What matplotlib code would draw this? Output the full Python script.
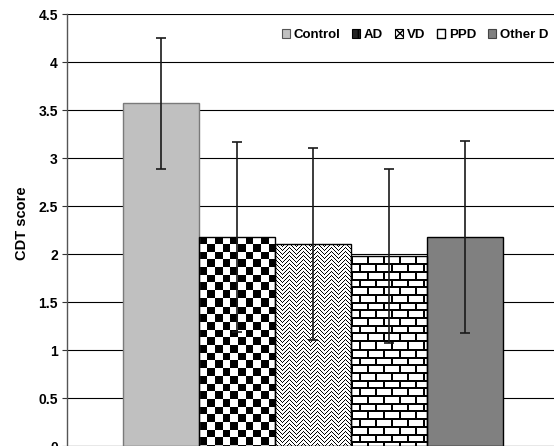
import numpy as np
import matplotlib
matplotlib.use("Agg")
import matplotlib.pyplot as plt
from matplotlib.patches import Patch

# CDT score by diagnostic group (mean ± SD)
groups = ["Control", "AD", "VD", "PPD", "Other D"]
means = [3.57, 2.18, 2.10, 1.98, 2.18]
sds = [0.68, 0.99, 1.00, 0.91, 1.00]
y_ticks = [0, 0.5, 1, 1.5, 2, 2.5, 3, 3.5, 4, 4.5]
y_tick_labels = ["0", "0.5", "1", "1.5", "2", "2.5", "3", "3.5", "4", "4.5"]

plt.rcParams["font.family"] = ["Liberation Sans", "DejaVu Sans"]
plt.rcParams["font.weight"] = "bold"

FIG_W, FIG_H, DPI = 554, 446, 100
fig = plt.figure(figsize=(FIG_W / DPI, FIG_H / DPI), dpi=DPI)

# plot area in pixels (it runs past the right edge of the canvas)
AX_L, AX_T, AX_W, AX_H = 67, 14, 492, 432
ax = fig.add_axes([AX_L / FIG_W, 1 - (AX_T + AX_H) / FIG_H, AX_W / FIG_W, AX_H / FIG_H])

PX_PER_X = 76.0
x0 = -0.5 - (123 - AX_L) / PX_PER_X
x1 = x0 + AX_W / PX_PER_X
y_max = 4.5
PX_PER_Y = AX_H / y_max

positions = np.arange(len(groups))
face = ["#c0c0c0", "white", "white", "white", "#808080"]
edge = ["#7a7a7a", "black", "black", "black", "black"]

ax.yaxis.grid(True, color="black", linewidth=0.8)
ax.set_axisbelow(True)

bars = ax.bar(positions, means, width=1.0, color=face, edgecolor="none", zorder=2)

# pixel grid for textured fills
yy, xx = np.mgrid[0:AX_H, 0:AX_W]


def texture(kind, k, top_val):
    lx = xx - (k - 0.5 - x0) * PX_PER_X
    ly = yy - (y_max - top_val) * PX_PER_Y
    lxi = np.floor(lx).astype(int)
    lyi = np.floor(ly).astype(int)
    if kind == "checker":
        dark = (np.floor(lx / 7.7) + np.floor(ly / 7.7)) % 2 == 0
    elif kind == "zigzag":
        d = np.abs((lxi % 14) - 7)
        v = (lyi + d) % 8
        parity = (lxi + lyi) % 2 == 0
        dark = ((v < 3) | (v == 5)) & parity
    else:  # brick
        row = np.floor(ly / 7.7)
        ry = ly - row * 7.7
        rx = (lx + (row % 2) * 8) % 16
        dark = (ry < 2) | (rx < 2)
    img = np.ones((AX_H, AX_W, 3))
    img[dark] = 0.0
    return img


kinds = {1: "checker", 2: "zigzag", 3: "brick"}
for k, kind in kinds.items():
    im = ax.imshow(texture(kind, k, means[k]), extent=(x0, x1, 0, y_max),
                   origin="upper", interpolation="nearest", aspect="auto", zorder=2.1)
    im.set_clip_path(bars[k])

ax.bar(positions, means, width=1.0, fill=False, edgecolor=edge, linewidth=1.0, zorder=2.2)

ax.errorbar(positions, means, yerr=sds, fmt="none", ecolor="#1a1a1a",
            elinewidth=1.2, capsize=3.6, capthick=1.2, zorder=3)

ax.set_xlim(x0, x1)
ax.set_ylim(0, y_max)
ax.set_yticks(y_ticks)
ax.set_yticklabels(y_tick_labels, fontsize=10, fontweight="bold")
ax.set_xticks([])
ax.tick_params(axis="y", direction="out", length=3.6, width=0.8, color="#333333", pad=3)
for s in ["top", "right"]:
    ax.spines[s].set_visible(False)
ax.spines["left"].set_color("#555555")
ax.spines["left"].set_linewidth(1.0)
ax.spines["bottom"].set_color("#555555")

fig.text(22 / FIG_W, 1 - 223 / FIG_H, "CDT score", rotation=90, ha="center", va="center",
         fontsize=10.5, fontweight="bold")

handles = [
    Patch(facecolor="#c0c0c0", edgecolor="#555555", linewidth=0.8),
    Patch(facecolor="#222222", edgecolor="black", linewidth=0.8, hatch="+"),
    Patch(facecolor="white", edgecolor="black", linewidth=0.8, hatch="xxxx"),
    Patch(facecolor="white", edgecolor="black", linewidth=1.0),
    Patch(facecolor="#808080", edgecolor="#444444", linewidth=0.8),
]
fig.legend(handles, groups, loc="center right", bbox_to_anchor=(548 / FIG_W, 1 - 35 / FIG_H),
           ncol=5, frameon=False, handlelength=0.6, handleheight=0.6,
           handletextpad=0.25, columnspacing=0.95, borderpad=0, borderaxespad=0,
           prop={"weight": "bold", "size": 9.5})

fig.savefig("out.png", dpi=DPI)
